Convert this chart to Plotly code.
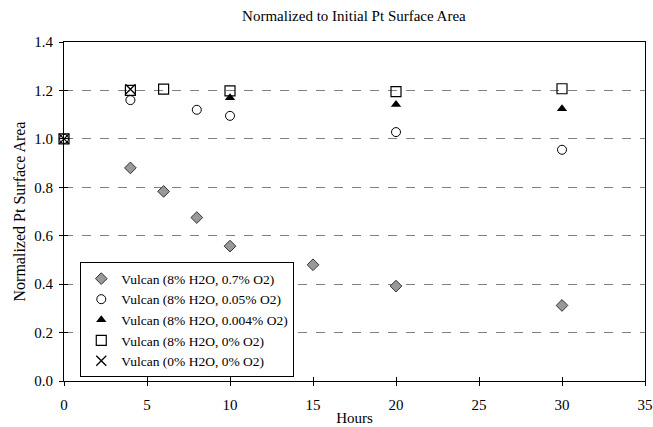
import plotly.graph_objects as go

x_a = [4, 6, 8, 10, 15, 20, 30]
y_a = [0.88, 0.783, 0.675, 0.557, 0.48, 0.392, 0.312]
x_b = [0, 4, 8, 10, 20, 30]
y_b = [1.0, 1.16, 1.12, 1.095, 1.028, 0.955]
x_c = [10, 20, 30]
y_c = [1.17, 1.142, 1.124]
x_d = [0, 4, 6, 10, 20, 30]
y_d = [1.0, 1.2, 1.205, 1.198, 1.195, 1.207]
x_e = [0, 4]
y_e = [1.0, 1.205]

x_ticks = [0, 5, 10, 15, 20, 25, 30, 35]
y_ticks = [0, 0.2, 0.4, 0.6, 0.8, 1.0, 1.2, 1.4]

names = ["Vulcan (8% H2O, 0.7% O2)", "Vulcan (8% H2O, 0.05% O2)",
         "Vulcan (8% H2O, 0.004% O2)", "Vulcan (8% H2O, 0% O2)",
         "Vulcan (0% H2O, 0% O2)"]

fig = go.Figure()
fig.add_trace(go.Scatter(x=x_a, y=y_a, mode="markers", name=names[0], cliponaxis=False,
    marker=dict(symbol="diamond", size=9, color="#999999", line=dict(color="#333333", width=1))))
fig.add_trace(go.Scatter(x=x_b, y=y_b, mode="markers", name=names[1], cliponaxis=False,
    marker=dict(symbol="circle-open", size=9, color="#000000", line=dict(width=1))))
fig.add_trace(go.Scatter(x=x_c, y=y_c, mode="markers", name=names[2], cliponaxis=False,
    marker=dict(symbol="triangle-up", size=9, color="#000000")))
fig.add_trace(go.Scatter(x=x_d, y=y_d, mode="markers", name=names[3], cliponaxis=False,
    marker=dict(symbol="square-open", size=10, color="#000000", line=dict(width=1.2))))
fig.add_trace(go.Scatter(x=x_e, y=y_e, mode="markers", name=names[4], cliponaxis=False,
    marker=dict(symbol="x-thin-open", size=10, color="#000000", line=dict(width=1.3, color="#000000"))))

fig.update_layout(
    width=653, height=427,
    margin=dict(l=64, r=8, t=42, b=46),
    paper_bgcolor="white", plot_bgcolor="white",
    font=dict(family="Liberation Serif", size=15, color="black"),
    title=dict(text="Normalized to Initial Pt Surface Area", x=0.542, xanchor="center",
               y=0.963, yanchor="middle", font=dict(size=15, color="black")),
    xaxis=dict(range=[0, 35], tickvals=x_ticks, automargin=False,
               ticks="outside", ticklen=4, tickcolor="black", ticklabelstandoff=6,
               tickfont=dict(size=15, color="black"),
               showline=True, linecolor="black", linewidth=1, mirror=True,
               showgrid=False, zeroline=False,
               title=dict(text="Hours", standoff=0, font=dict(size=15, color="black"))),
    yaxis=dict(range=[0, 1.4], tickvals=y_ticks, automargin=False,
               tickformat=".1f", ticks="outside", ticklen=4, tickcolor="black",
               ticklabelstandoff=3,
               tickfont=dict(size=15, color="black"),
               showline=True, linecolor="black", linewidth=1, mirror=True,
               showgrid=True, gridcolor="#808080", griddash="dash", gridwidth=1,
               zeroline=False,
               title=dict(text="Normalized Pt Surface Area", standoff=4,
                          font=dict(size=16, color="black"))),
    xaxis2=dict(range=[0, 35], tickvals=x_ticks, overlaying="x", side="bottom",
                ticks="inside", ticklen=4, tickcolor="black", showticklabels=False,
                showgrid=False, zeroline=False, showline=False, automargin=False),
    yaxis2=dict(range=[0, 1.4], tickvals=y_ticks, overlaying="y", side="left",
                ticks="inside", ticklen=4, tickcolor="black", showticklabels=False,
                showgrid=False, zeroline=False, showline=False, automargin=False),
    legend=dict(x=0.028, y=0.35, xanchor="left", yanchor="top",
                bordercolor="black", borderwidth=1, bgcolor="white",
                font=dict(size=13.5, color="black"), itemwidth=30, tracegroupgap=0),
    showlegend=True,
)
fig.add_trace(go.Scatter(x=[None], y=[None], xaxis="x2", yaxis="y2",
                         showlegend=False, hoverinfo="skip"))

fig.write_html("out.html")
